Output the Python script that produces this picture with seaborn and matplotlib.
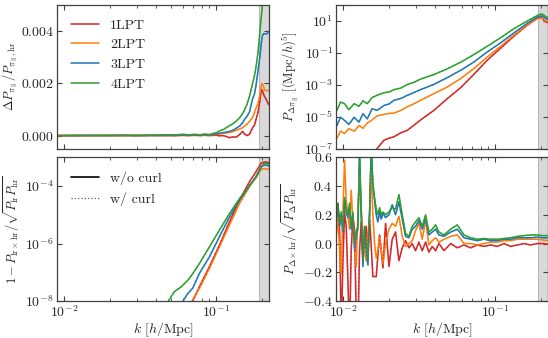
import numpy as np
import pandas as pd
import seaborn as sns
import matplotlib.pyplot as plt
from matplotlib.lines import Line2D
from matplotlib.ticker import FuncFormatter, NullLocator, LogLocator, NullFormatter

labels = ['1LPT', '2LPT', '3LPT', '4LPT']
colors = ['#d62728', '#ff7f0e', '#1f77b4', '#2ca02c']

# top left: Delta P_pi / P_pi,hr
k_ratio = [0.0089, 0.012, 0.016, 0.020, 0.025, 0.030, 0.036, 0.042, 0.048, 0.054,
           0.060, 0.066, 0.072, 0.078, 0.084, 0.090, 0.095, 0.100, 0.105, 0.110,
           0.116, 0.122, 0.128, 0.135, 0.142, 0.149, 0.153, 0.159, 0.165, 0.173,
           0.178, 0.182, 0.187, 0.190, 0.194, 0.197, 0.200, 0.204, 0.207, 0.212,
           0.216, 0.221]
ratio_1lpt = [0.0, 0.0, 0.0, 0.0, 0.00001, 0.0, 0.0, 0.00001, 0.0, 0.0,
              0.00001, 0.0, 0.00001, 0.0, 0.00001, 0.0, 0.00001, 0.00001, -0.00001, 0.0,
              -0.00003, -0.00008, -0.00005, -0.00006, 0.00004, 0.00016, 0.00006, 0.0, 0.00005, 0.0003,
              0.0004, 0.0006, 0.00085, 0.00107, 0.0014, 0.00172, 0.00175, 0.0016, 0.0015, 0.0014,
              0.0013, 0.00118]
ratio_2lpt = [0.0, 0.0, 0.0, 0.00001, 0.0, 0.0, 0.00001, 0.0, 0.00001, 0.0,
              0.00001, 0.00001, 0.00002, 0.00001, 0.00002, 0.00003, 0.00003, 0.00004, 0.00006, 0.00008,
              0.0001, 0.00012, 0.00015, 0.0002, 0.00026, 0.0003, 0.00036, 0.00044, 0.00054, 0.0007,
              0.00088, 0.00105, 0.0012, 0.00135, 0.0016, 0.0019, 0.002, 0.0019, 0.00175, 0.00172,
              0.00172, 0.00173]
ratio_3lpt = [0.0, 0.0, 0.00001, 0.0, 0.00001, 0.0, 0.00001, 0.0, 0.00001, 0.00001,
              0.00002, 0.00001, 0.00002, 0.00002, 0.00003, 0.00003, 0.00004, 0.00006, 0.00009, 0.00011,
              0.00013, 0.00016, 0.0002, 0.00028, 0.00036, 0.0005, 0.00062, 0.00074, 0.0009, 0.0014,
              0.0016, 0.0019, 0.0024, 0.0027, 0.0031, 0.0035, 0.0038, 0.0039, 0.0039, 0.0039,
              0.0039, 0.0040]
ratio_4lpt = [0.0, 0.00001, 0.0, 0.00001, 0.0, 0.00001, 0.00001, 0.00002, 0.00003, 0.00002,
              0.00005, 0.00003, 0.00005, 0.00003, 0.00006, 0.00004, 0.00008, 0.00011, 0.00018, 0.00022,
              0.0003, 0.00038, 0.00045, 0.00055, 0.00068, 0.00085, 0.00098, 0.0012, 0.0015, 0.002,
              0.0023, 0.0026, 0.0031, 0.0035, 0.0041, 0.0045, 0.0049, 0.0056, 0.006, 0.0065,
              0.007, 0.0075]

# top right: P_Delta pi
k_pow = [0.0091, 0.0096, 0.0102, 0.0109, 0.0118, 0.0127, 0.0135, 0.0144, 0.0155, 0.0167,
         0.0185, 0.0200, 0.0216, 0.0240, 0.0264, 0.0290, 0.0323, 0.0395, 0.0483, 0.0592,
         0.0724, 0.0886, 0.1085, 0.1327, 0.1624, 0.1890, 0.1965, 0.2038, 0.2146, 0.2210]
pow_1lpt = [1.26e-8, 1.6e-8, 1.26e-8, 2.0e-8, 1.6e-8, 2.5e-8, 3.2e-8, 4.0e-8, 5.0e-8, 1.0e-7,
            3.3e-7, 4.5e-7, 5.6e-7, 1.0e-6, 1.4e-6, 2.8e-6, 6.3e-6, 2.5e-5, 1.35e-4, 6.6e-4,
            4.6e-3, 3.5e-2, 0.2, 1.12, 5.5, 16.6, 18.2, 14.5, 8.9, 7.9]
pow_2lpt = [4.5e-7, 1.26e-6, 8.9e-7, 1.8e-6, 1.23e-6, 2.8e-6, 1.9e-6, 4.0e-6, 6.3e-6, 1.12e-5,
            1.4e-5, 1.6e-5, 1.7e-5, 2.5e-5, 4.2e-5, 6.3e-5, 1.07e-4, 2.8e-4, 7.2e-4, 2.45e-3,
            1.05e-2, 5.6e-2, 0.26, 1.29, 5.5, 13.8, 15.1, 14.5, 10.2, 8.9]
pow_3lpt = [2.8e-6, 9.3e-6, 5.9e-6, 3.3e-6, 9.3e-6, 4.6e-6, 1.55e-5, 7.4e-6, 3.2e-5, 2.5e-5,
            5.0e-5, 6.3e-5, 1.07e-4, 1.4e-4, 2.2e-4, 3.2e-4, 5.0e-4, 1.07e-3, 2.8e-3, 8.1e-3,
            2.7e-2, 0.115, 0.43, 1.8, 7.1, 17.4, 20.0, 20.4, 14.5, 12.6]
pow_4lpt = [2.5e-5, 8.3e-5, 6.6e-5, 2.75e-5, 6.6e-5, 4.5e-5, 1.0e-4, 6.6e-5, 1.6e-4, 2.2e-4,
            3.2e-4, 3.5e-4, 5.0e-4, 6.3e-4, 1.05e-3, 1.4e-3, 2.3e-3, 4.4e-3, 1.0e-2, 2.6e-2,
            7.9e-2, 0.26, 0.89, 3.3, 10.0, 22.0, 26.0, 27.0, 19.0, 16.0]

# bottom left: 1 - r(lr, hr)
k_corr = [0.0440, 0.0484, 0.0529, 0.0586, 0.0648, 0.0699, 0.0773, 0.0899, 0.1046, 0.1218,
          0.1417, 0.1649, 0.1824, 0.1968, 0.2070, 0.2175, 0.2210]
corr_1lpt = [2.5e-10, 4.0e-10, 6.3e-10, 1.26e-9, 3.2e-9, 1.0e-8, 3.1e-8, 1.55e-7, 8.7e-7, 5.6e-6,
             3.2e-5, 1.4e-4, 3.2e-4, 6.3e-4, 6.9e-4, 6.8e-4, 6.3e-4]
corr_2lpt = [3.2e-10, 5.0e-10, 1.0e-9, 1.6e-9, 5.0e-9, 1.1e-8, 2.75e-8, 1.35e-7, 7.6e-7, 4.4e-6,
             2.45e-5, 9.5e-5, 2.0e-4, 3.8e-4, 4.0e-4, 3.9e-4, 3.7e-4]
corr_3lpt = [1.0e-9, 1.6e-9, 2.5e-9, 7.9e-9, 1.8e-8, 2.8e-8, 9.1e-8, 3.4e-7, 1.7e-6, 8.3e-6,
             3.2e-5, 1.0e-4, 2.2e-4, 4.7e-4, 5.4e-4, 5.2e-4, 5.0e-4]
corr_4lpt = [5.0e-9, 1.0e-8, 2.1e-8, 3.1e-8, 5.2e-8, 8.9e-8, 2.0e-7, 7.6e-7, 2.9e-6, 1.1e-5,
             3.6e-5, 1.05e-4, 2.0e-4, 4.6e-4, 6.3e-4, 6.0e-4, 5.8e-4]

# bottom right: cross correlation of Delta with hr
k_cross = [0.0090, 0.00923, 0.00947, 0.00971, 0.00995, 0.01021, 0.01047, 0.01074, 0.01101, 0.01129,
           0.01158, 0.01188, 0.01218, 0.01249, 0.01281, 0.01314, 0.01348, 0.01382, 0.01417, 0.01454,
           0.01491, 0.01529, 0.01568, 0.01608, 0.01649, 0.01692, 0.01735, 0.01779, 0.01825,
           0.0190, 0.0200, 0.0210, 0.0221, 0.02325, 0.02445, 0.0257, 0.02705, 0.02845, 0.0299,
           0.03147, 0.0331, 0.0348, 0.0366, 0.0385, 0.0405, 0.0426,
           0.046, 0.0509, 0.0563, 0.0622, 0.0689, 0.0762, 0.0843, 0.0932, 0.1031, 0.1141,
           0.1262, 0.1396, 0.1545, 0.1709, 0.189, 0.2039, 0.2222]
cross_1lpt = [0.05, 0.28, 0.1, -0.6, -0.15, 0.22, 0.12, -0.25, -0.65, -0.05,
              0.18, 0.1, -0.5, -0.65, -0.05, 0.15, -0.12, 0.02, 0.12, -0.05,
              0.17, -0.02, -0.23, -0.23, -0.23, -0.08, 0.06, -0.05, -0.17,
              0.14, -0.16, 0.03, 0.08, -0.12, -0.03, 0.02, -0.03, 0.0, -0.05,
              0.01, -0.05, 0.01, -0.06, -0.02, -0.05, 0.0,
              -0.05, 0.0, -0.03, -0.01, -0.03, -0.01, -0.02, -0.01, -0.02, 0.0,
              -0.02, -0.01, 0.0, -0.01, 0.0, 0.0, -0.005]
cross_2lpt = [0.05, 0.19, -0.05, -0.21, 0.2, 0.58, 0.3, 0.2, 0.1, 0.37,
              0.15, 0.0, -0.16, 0.2, 0.49, 0.25, 0.05, -0.05, -0.12, 0.05,
              0.2, 0.5, 0.2, 0.0, -0.1, -0.05, 0.05, -0.05, -0.14,
              0.0, 0.1, 0.14, 0.12, 0.19, 0.05, -0.02, 0.0, 0.02, 0.09,
              0.14, 0.03, 0.16, -0.01, 0.02, 0.04, 0.01,
              0.03, 0.05, 0.06, 0.0, 0.0, -0.01, 0.0, 0.01, 0.01, 0.02,
              0.02, 0.03, 0.03, 0.03, 0.03, 0.025, 0.02]
cross_3lpt = [0.16, 0.25, 0.12, 0.2, 0.08, 0.3, 0.22, 0.18, 0.25, 0.1,
              0.2, -0.05, 0.05, 0.1, 0.62, 0.2, -0.16, 0.1, -0.05, -0.15,
              0.2, 0.65, 0.4, 0.3, 0.2, 0.15, 0.22, 0.17, 0.21,
              0.18, 0.2, 0.27, 0.2, 0.29, 0.17, 0.05, 0.04, 0.1, 0.12,
              0.16, 0.1, 0.17, 0.06, 0.08, 0.1, 0.06,
              0.05, 0.08, 0.1, 0.04, 0.03, 0.02, 0.03, 0.02, 0.02, 0.03,
              0.03, 0.04, 0.04, 0.04, 0.045, 0.04, 0.04]
cross_4lpt = [0.2, 0.28, 0.15, 0.22, 0.1, 0.32, 0.24, 0.2, 0.28, 0.12,
              0.22, 0.0, 0.08, 0.12, 0.62, 0.22, -0.12, 0.12, -0.02, -0.1,
              0.22, 0.68, 0.42, 0.32, 0.24, 0.2, 0.25, 0.2, 0.22,
              0.2, 0.22, 0.25, 0.24, 0.34, 0.2, 0.07, 0.05, 0.12, 0.15,
              0.18, 0.12, 0.2, 0.08, 0.1, 0.13, 0.08,
              0.06, 0.1, 0.13, 0.06, 0.04, 0.03, 0.035, 0.03, 0.03, 0.035,
              0.04, 0.05, 0.055, 0.06, 0.06, 0.055, 0.055]

k_band = 0.19

sns.set_style('ticks')
plt.rcParams['font.family'] = 'serif'
plt.rcParams['font.serif'] = ['cmr10']
plt.rcParams['mathtext.fontset'] = 'cm'
plt.rcParams['axes.formatter.use_mathtext'] = True
plt.rcParams['font.size'] = 10
plt.rcParams['axes.edgecolor'] = '0.25'
plt.rcParams['axes.linewidth'] = 0.9


def draw(ax, k, series):
    df = pd.DataFrame(dict(zip(labels, series)))
    df['k'] = k
    long = df.melt(id_vars='k', var_name='order', value_name='val')
    # w/o curl
    sns.lineplot(data=long, x='k', y='val', hue='order', hue_order=labels,
                 palette=colors, lw=1.1, legend=False, estimator=None, sort=False, ax=ax)
    # w/ curl
    sns.lineplot(data=long, x='k', y='val', hue='order', hue_order=labels,
                 palette=colors, lw=1.0, ls=':', alpha=0.7, legend=False,
                 estimator=None, sort=False, ax=ax)
    ax.axvspan(k_band, 0.3, facecolor='0.85', edgecolor='0.72', lw=0.8, zorder=0)
    ax.set_xlabel('')
    ax.set_ylabel('')


fig, axes = plt.subplots(2, 2, figsize=(5.48, 3.38), dpi=100)
fig.subplots_adjust(left=0.1046, right=0.9994, bottom=0.1095, top=0.9852,
                    wspace=0.319, hspace=0.0605)

for ax in axes.flat:
    ax.set_xscale('log')

axes[1, 0].set_yscale('log')
axes[0, 1].set_yscale('log')

draw(axes[0, 0], k_ratio, [ratio_1lpt, ratio_2lpt, ratio_3lpt, ratio_4lpt])
draw(axes[0, 1], k_pow, [pow_1lpt, pow_2lpt, pow_3lpt, pow_4lpt])
draw(axes[1, 0], k_corr, [corr_1lpt, corr_2lpt, corr_3lpt, corr_4lpt])
draw(axes[1, 1], k_cross, [cross_1lpt, cross_2lpt, cross_3lpt, cross_4lpt])

for ax in axes.flat:
    ax.set_xlim(0.009, 0.221)
    ax.xaxis.set_minor_locator(LogLocator(base=10, subs=np.arange(2, 10), numticks=20))
    ax.xaxis.set_minor_formatter(NullFormatter())
    ax.tick_params(which='both', direction='in', top=True, right=True, color='0.25')
    ax.tick_params(which='major', length=3.5, width=0.8, labelsize=10, pad=2.5)
    ax.tick_params(which='minor', length=2, width=0.6)

for ax in axes[0]:
    ax.tick_params(labelbottom=False)
for ax in axes[1]:
    ax.set_xlabel(r'$k\ [h/\mathrm{Mpc}]$', fontsize=10, labelpad=0)

ax = axes[0, 0]
ax.set_ylim(-0.0005, 0.005)
ax.set_yticks([0.0, 0.002, 0.004])
ax.yaxis.set_major_formatter(FuncFormatter(lambda v, p: f'${v:.3f}$'))
ax.set_ylabel(r'$\Delta P_{\pi_\parallel}/P_{\pi_\parallel,\mathrm{hr}}$', fontsize=9, labelpad=0.5)
ax.legend(handles=[Line2D([], [], color=c, lw=1.1) for c in colors], labels=labels,
          loc='upper left', frameon=False, fontsize=10, handlelength=2.0,
          labelspacing=0.5, borderaxespad=0.6)

ax = axes[0, 1]
ax.set_ylim(1e-7, 1e2)
ax.set_yticks([1e-7, 1e-5, 1e-3, 1e-1, 1e1])
ax.yaxis.set_minor_locator(NullLocator())
ax.set_ylabel(r'$P_{\Delta\pi_\parallel}\ [(\mathrm{Mpc}/h)^5]$', fontsize=9, labelpad=2)

ax = axes[1, 0]
ax.set_ylim(1e-8, 1e-3)
ax.set_yticks([1e-8, 1e-6, 1e-4])
ax.yaxis.set_minor_locator(NullLocator())
ax.set_ylabel(r'$1-P_{\mathrm{lr}\times\mathrm{hr}}/\sqrt{P_\mathrm{lr}P_\mathrm{hr}}$', fontsize=9, labelpad=2)
ax.legend(handles=[Line2D([], [], color='black', lw=1.2),
                   Line2D([], [], color='0.4', lw=0.9, ls=':')],
          labels=['w/o curl', 'w/ curl'], loc='upper left', frameon=False,
          fontsize=10, handlelength=2.0, labelspacing=0.55, borderaxespad=0.6)

ax = axes[1, 1]
ax.set_ylim(-0.4, 0.6)
ax.set_yticks([-0.4, -0.2, 0.0, 0.2, 0.4, 0.6])
ax.yaxis.set_major_formatter(FuncFormatter(lambda v, p: f'${round(v, 1) + 0.0:.1f}$'))
ax.set_ylabel(r'$P_{\Delta\times\mathrm{hr}}/\sqrt{P_\Delta P_\mathrm{hr}}$', fontsize=9, labelpad=2)

fig.savefig('out.png', dpi=100)
